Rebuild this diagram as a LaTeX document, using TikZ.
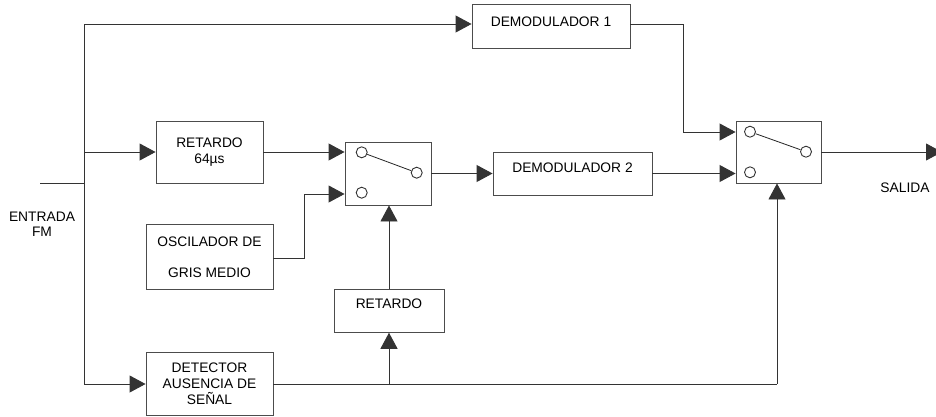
\documentclass[tikz,border=0pt]{standalone}
\usepackage{fontspec}
\setmainfont{Liberation Sans}
\usetikzlibrary{arrows.meta}
\tikzset{
  wire/.style={draw=black!80, line width=0.9pt},
  flow/.style={wire, -{Triangle[length=16pt,width=17pt]}},
  block/.style={draw=black!70, line width=0.9pt, fill=white, inner sep=0pt,
    align=center, font=\fontsize{13.8}{16}\selectfont},
  contact/.style={circle, draw=black!80, line width=0.9pt, minimum size=11pt, inner sep=0pt},
  lever/.style={draw=black!85, line width=0.8pt},
  caption/.style={align=center, font=\fontsize{13.8}{15}\selectfont, inner sep=0pt}
}
\begin{document}
\begin{tikzpicture}[x=1pt, y=-1pt]
\useasboundingbox (0,0) rectangle (936,416);

% processing blocks
\node[block, minimum width=158pt, minimum height=44pt, text height=9.9pt, text depth=9pt]
  (dem1) at (551,26) {DEMODULADOR 1};
\node[block, minimum width=107pt, minimum height=62pt] (ret64) at (209.5,152) {RETARDO\\64µs};
\node[block, minimum width=127pt, minimum height=65pt] (osc) at (209.5,257) {OSCILADOR DE\\[15pt]GRIS MEDIO};
\node[block, minimum width=110pt, minimum height=43pt, text height=9.9pt, text depth=13.6pt]
  (ret) at (389,310.8) {RETARDO};
\node[block, minimum width=127pt, minimum height=63pt] (det) at (209.5,383.5) {DETECTOR\\AUSENCIA DE\\SEÑAL};
\node[block, minimum width=159pt, minimum height=43pt, text height=9.9pt, text depth=12.4pt]
  (dem2) at (572.5,173.5) {DEMODULADOR 2};

% switches
\node[block, minimum width=86pt, minimum height=63pt] (sw1) at (388,173.5) {};
\node[block, minimum width=85pt, minimum height=62pt] (sw2) at (778.5,152) {};
\node[contact] (s1a) at (361.7,152.3) {};
\node[contact] (s1b) at (361.7,192.7) {};
\node[contact] (s1c) at (416.7,172.7) {};
\draw[lever] (s1a) -- (s1c);
\node[contact] (s2a) at (750,131.7) {};
\node[contact] (s2b) at (750,172.3) {};
\node[contact] (s2c) at (806,151.7) {};
\draw[lever] (s2a) -- (s2c);

% labels
\node[caption] (entrada) at (42,224.5) {ENTRADA\\FM};
\node[caption] (salida) at (905,188) {SALIDA};

% input bus
\coordinate (in) at (40,183);
\coordinate (busT) at (84,24);
\coordinate (busB) at (84,384);
\draw[wire] (in) -- (84,183);
\draw[wire] (busT) -- (busB);
\draw[flow] (busT) -- (dem1.west |- busT);
\draw[flow] (84,152) -- (ret64.west);
\draw[flow] (busB) -- (det.west |- busB);

% first switch inputs
\draw[flow] (ret64.east) -- (sw1.west |- ret64.east);
\coordinate (oscA) at (304,258);
\draw[flow] (osc.east |- oscA) -- (oscA) -- (304,194) -- (sw1.west |- 0,194);

% detector outputs
\coordinate (detJ) at (389,384);
\coordinate (detR) at (777,384);
\draw[wire] (det.east |- detJ) -- (detR);
\draw[flow] (detJ) -- (ret.south);
\draw[flow] (ret.north) -- (sw1.south -| ret.north);
\draw[flow] (detR) -- (sw2.south -| detR);

% main path
\draw[flow] (sw1.east |- 0,173.5) -- (dem2.west);
\draw[flow] (dem2.east) -- (sw2.west |- dem2.east);
\coordinate (d1a) at (683,24);
\draw[flow] (dem1.east |- d1a) -- (d1a) -- (683,132) -- (sw2.west |- 0,132);

% output
\coordinate (out) at (942,152);
\draw[flow] (sw2.east) -- (out);
\end{tikzpicture}
\end{document}
